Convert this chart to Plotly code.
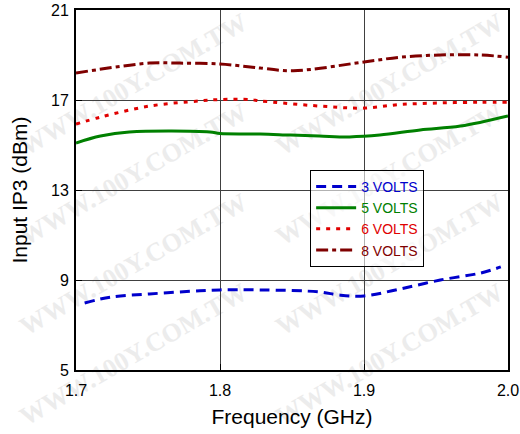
import plotly.graph_objects as go

# Data
freq_3v = [1.706, 1.724, 1.751, 1.786, 1.800, 1.828, 1.869, 1.883, 1.900, 1.925, 1.953, 1.981, 1.995]
ip3_3v = [7.98, 8.24, 8.38, 8.52, 8.56, 8.56, 8.47, 8.33, 8.29, 8.60, 9.00, 9.31, 9.58]

freq_5v = [1.700, 1.717, 1.737, 1.793, 1.800, 1.828, 1.849, 1.869, 1.890, 1.911, 1.939, 1.967, 2.000]
ip3_5v = [15.09, 15.40, 15.58, 15.58, 15.51, 15.49, 15.44, 15.40, 15.36, 15.44, 15.67, 15.84, 16.29]

freq_6v = [1.700, 1.717, 1.751, 1.786, 1.800, 1.821, 1.828, 1.876, 1.900, 1.925, 1.953, 1.981, 2.000]
ip3_6v = [15.93, 16.24, 16.73, 16.96, 17.02, 17.02, 16.96, 16.70, 16.64, 16.80, 16.87, 16.90, 16.90]

freq_8v = [1.700, 1.751, 1.772, 1.800, 1.821, 1.828, 1.851, 1.900, 1.925, 1.953, 1.981, 2.000]
ip3_8v = [18.20, 18.64, 18.64, 18.60, 18.47, 18.42, 18.30, 18.69, 18.90, 19.00, 19.00, 18.90]

x_ticks = [1.7, 1.8, 1.9, 2.0]
x_tick_labels = ["1.7", "1.8", "1.9", "2.0"]
y_ticks = [5, 9, 13, 17, 21]

watermark_text = "WWW.100Y.COM.TW"

series = [
    ("3 VOLTS", freq_3v, ip3_3v, "#0000cc", "10px,6px"),
    ("5 VOLTS", freq_5v, ip3_5v, "#008000", "solid"),
    ("6 VOLTS", freq_6v, ip3_6v, "#e00000", "4px,6px"),
    ("8 VOLTS", freq_8v, ip3_8v, "#7f0000", "12px,4px,4px,4px"),
]

fig = go.Figure()
for name, xs, ys, color, dash in series:
    fig.add_trace(go.Scatter(
        x=xs, y=ys, mode="lines", line_shape="spline",
        name=f"<span style='color:{color}'>{name}</span>",
        line=dict(color=color, width=3, dash=dash),
    ))

# Faint background watermark (kept inside the image), two columns
W, H = 520, 434
L, R, T, B = 76, 12, 10, 64
pw, ph = W - L - R, H - T - B
for cx in (132, 388):
    for cy in (82, 172, 262, 352):
        px = (cx - L) / pw
        py = (H - B - cy) / ph
        fig.add_shape(
            type="rect", xref="paper", yref="paper",
            x0=px - 0.05, x1=px + 0.05, y0=py - 0.05, y1=py + 0.05,
            line=dict(width=0), fillcolor="rgba(0,0,0,0)", layer="below",
            label=dict(text=watermark_text, textangle=-30,
                       font=dict(family="Liberation Serif", size=26, color="#ececec",
                                 weight="bold")),
        )

fig.update_layout(
    width=W, height=H,
    margin=dict(l=L, r=R, t=T, b=B),
    paper_bgcolor="white", plot_bgcolor="rgba(0,0,0,0)",
    font=dict(family="Liberation Sans, Arial", color="black"),
    showlegend=True,
    legend=dict(
        x=0.542, y=0.556, xanchor="left", yanchor="top",
        bgcolor="rgba(255,255,255,0.6)", bordercolor="black", borderwidth=1,
        font=dict(size=14), tracegroupgap=0,
        itemwidth=40,
    ),
    xaxis=dict(
        range=[1.7, 2.0], tickvals=x_ticks, ticktext=x_tick_labels,
        showgrid=True, gridcolor="#404040", gridwidth=1,
        showline=True, linecolor="black", linewidth=2, mirror=True,
        ticks="inside", ticklen=6, tickcolor="black",
        tickfont=dict(size=16), automargin=False, ticklabelstandoff=5,
        title=dict(text="Frequency (GHz)", font=dict(size=21), standoff=11),
        zeroline=False,
    ),
    yaxis=dict(
        range=[5, 21], tickvals=y_ticks,
        showgrid=True, gridcolor="#404040", gridwidth=1,
        showline=True, linecolor="black", linewidth=2, mirror=True,
        ticks="inside", ticklen=6, tickcolor="black",
        tickfont=dict(size=16), automargin=False, ticklabelstandoff=2,
        title=dict(text="Input IP3 (dBm)", font=dict(size=21), standoff=18),
        zeroline=False,
    ),
)

fig.write_html("out.html")
